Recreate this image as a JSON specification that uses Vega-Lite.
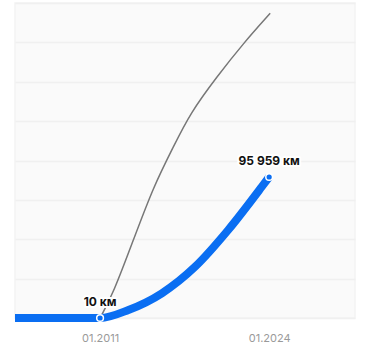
{
  "$schema": "https://vega.github.io/schema/vega-lite/v6.json",
  "width": 340,
  "height": 315,
  "autosize": {"type": "none"},
  "padding": {"left": 15, "top": 3, "right": 15, "bottom": 32},
  "background": "#ffffff",
  "config": {
    "view": {"fill": "#fafafa", "stroke": "#f3f3f3", "strokeWidth": 1.5},
    "font": "Inter"
  },
  "datasets": {
    "lines": [
      {"series": "trend", "year": 2011, "km": 10},
      {"series": "trend", "year": 2012.02, "km": 16810},
      {"series": "trend", "year": 2013.56, "km": 53090},
      {"series": "trend", "year": 2015.1, "km": 89360},
      {"series": "trend", "year": 2016.64, "km": 116580},
      {"series": "trend", "year": 2017.92, "km": 139270},
      {"series": "trend", "year": 2019.98, "km": 164220},
      {"series": "trend", "year": 2022.02, "km": 186960},
      {"series": "trend", "year": 2024.08, "km": 207380},
      {"series": "actual", "year": 2004.46, "km": 0},
      {"series": "actual", "year": 2011, "km": 10},
      {"series": "actual", "year": 2013.18, "km": 5445},
      {"series": "actual", "year": 2015.75, "km": 16810},
      {"series": "actual", "year": 2018.31, "km": 34910},
      {"series": "actual", "year": 2020.85, "km": 59890},
      {"series": "actual", "year": 2023.44, "km": 89360},
      {"series": "actual", "year": 2024.0, "km": 95959}
    ],
    "points": [
      {"year": 2011, "km": 10, "label": "10 км"},
      {"year": 2024.0, "km": 95959, "label": "95 959 км"}
    ]
  },
  "encoding": {
    "x": {
      "field": "year", "type": "quantitative",
      "scale": {"domain": [2004.46, 2030.6], "nice": false, "zero": false},
      "axis": {
        "values": [2011, 2024], "labelExpr": "'01.' + datum.value",
        "grid": false, "domain": false, "ticks": false, "tickSize": 0,
        "labelPadding": 14, "labelColor": "#9a9a9a", "labelFont": "Inter",
        "labelFontSize": 11, "title": null
      }
    },
    "y": {
      "field": "km", "type": "quantitative",
      "scale": {"domain": [0, 214400], "nice": false},
      "axis": {
        "values": [0, 26800, 53600, 80400, 107200, 134000, 160800, 187600, 214400],
        "labels": false, "ticks": false, "domain": false, "grid": true,
        "gridColor": "#f0f0f0", "gridWidth": 1.5, "title": null
      }
    }
  },
  "layer": [
    {
      "data": {"name": "lines"},
      "transform": [{"filter": "datum.series == 'trend'"}],
      "mark": {"type": "line", "color": "#777777", "strokeWidth": 1.5, "interpolate": "basis"}
    },
    {
      "data": {"name": "lines"},
      "transform": [{"filter": "datum.series == 'actual'"}],
      "mark": {"type": "line", "color": "#0a6ef2", "strokeWidth": 8, "interpolate": "monotone", "strokeCap": "butt"}
    },
    {
      "data": {"name": "points"},
      "mark": {"type": "point", "filled": true, "fill": "#0a6ef2", "stroke": "#ffffff", "strokeWidth": 1.5, "size": 45, "opacity": 1}
    },
    {
      "data": {"name": "points"},
      "mark": {"type": "text", "dy": -16, "font": "Inter", "fontSize": 12, "fontWeight": "bold", "stroke": "#ffffff", "strokeWidth": 4, "fill": "#ffffff", "strokeJoin": "round"},
      "encoding": {"text": {"field": "label"}}
    },
    {
      "data": {"name": "points"},
      "mark": {"type": "text", "dy": -16, "font": "Inter", "fontSize": 12, "fontWeight": "bold", "fill": "#111111"},
      "encoding": {"text": {"field": "label"}}
    }
  ]
}
